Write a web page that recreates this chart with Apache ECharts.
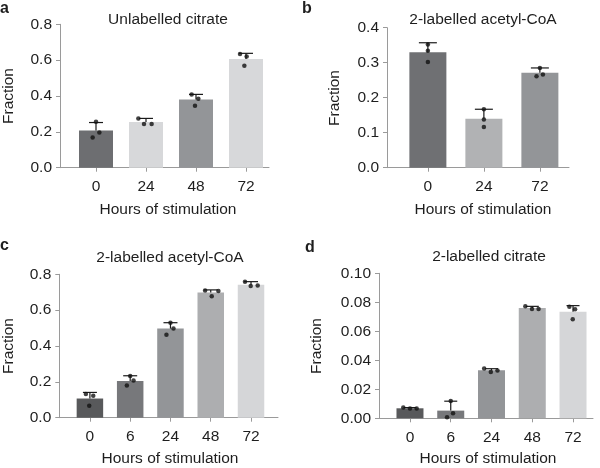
<!DOCTYPE html>
<html>
<head>
<meta charset="utf-8">
<script src="https://cdn.jsdelivr.net/npm/echarts@6/dist/echarts.min.js"></script>
<style>html,body{margin:0;padding:0;background:#fff}#c{width:600px;height:468px}</style>
</head>
<body>
<div id="c"></div>
<script>
// ---- data ----
var catsA = ['0', '24', '48', '72'];
var meansA = [0.207, 0.255, 0.381, 0.607];
var capsA = [0.252, 0.275, 0.409, 0.638];
var repsA = [[0.169, 0.257, 0.197], [0.275, 0.244, 0.244], [0.409, 0.385, 0.346], [0.634, 0.620, 0.569]];
var jitA = [[-0.067, 0, 0.067], [-0.153, -0.04, 0.113], [-0.087, 0.047, -0.02], [-0.12, 0.013, -0.033]];

var catsB = ['0', '24', '72'];
var meansB = [0.330, 0.140, 0.271];
var capsB = [0.357, 0.167, 0.285];
var repsB = [[0.352, 0.334, 0.302], [0.167, 0.138, 0.116], [0.285, 0.261, 0.266]];
var jitB = [[0, 0, 0], [0, 0, 0], [0, -0.06, 0.054]];

var catsC = ['0', '6', '24', '48', '72'];
var meansC = [0.107, 0.205, 0.497, 0.698, 0.742];
var capsC = [0.141, 0.234, 0.530, 0.713, 0.759];
var repsC = [[0.132, 0.123, 0.067], [0.233, 0.207, 0.179], [0.530, 0.497, 0.463], [0.709, 0.707, 0.677], [0.759, 0.735, 0.737]];
var jitC = [[-0.1, 0.083, -0.017], [0, 0.083, -0.083], [0, 0.075, -0.1], [-0.14, 0.19, 0.025], [-0.15, -0.008, 0.166]];

var catsD = ['0', '6', '24', '48', '72'];
var meansD = [0.0069, 0.0053, 0.0331, 0.0760, 0.0735];
var capsD = [0.0074, 0.0118, 0.0342, 0.0772, 0.0777];
var repsD = [[0.0074, 0.0067, 0.0067], [0.0119, 0.0034, 0.0007], [0.0343, 0.0320, 0.0329], [0.0772, 0.0754, 0.0754], [0.0770, 0.0752, 0.0683]];
var jitD = [[-0.164, 0, 0.164], [0, 0.056, -0.09], [-0.18, -0.017, 0.147], [-0.17, -0.007, 0.155], [-0.09, 0.05, -0.007]];

var ticksA = [0, 0.8, 0.2], ticksB = [0, 0.4, 0.1], ticksC = [0, 0.8, 0.2], ticksD = [0, 0.10, 0.02];

// ---- styling ----
var FONT = 'Liberation Sans, Arial, sans-serif';
var TXT = '#1e1e1e';
var AX = '#9a9a9a';
var FS = 15.5;
var colorsA = ['#6d6e71', '#d7d8da', '#939598', '#d7d8da'];
var colorsB = ['#6f7073', '#b1b2b4', '#939598'];
var colorsCD = ['#58595b', '#77787b', '#939598', '#adaeb0', '#d5d6d8'];

var panels = [
  {cats: catsA, means: meansA, caps: capsA, reps: repsA, jit: jitA, ticks: ticksA, dec: 1, colors: colorsA,
   grid: {left: 60, top: 24.3, width: 209, height: 143.4}, xr: [-0.72, 3.46], barW: 34, capW: 14},
  {cats: catsB, means: meansB, caps: capsB, reps: repsB, jit: jitB, ticks: ticksB, dec: 1, colors: colorsB,
   grid: {left: 387, top: 27.7, width: 182, height: 140}, xr: [-0.73, 2.52], barW: 37, capW: 18},
  {cats: catsC, means: meansC, caps: capsC, reps: repsC, jit: jitC, ticks: ticksC, dec: 1, colors: colorsCD,
   grid: {left: 59.3, top: 274.3, width: 218.7, height: 143.4}, xr: [-0.76, 4.67], barW: 26.5, capW: 14},
  {cats: catsD, means: meansD, caps: capsD, reps: repsD, jit: jitD, ticks: ticksD, dec: 2, colors: colorsCD,
   grid: {left: 379, top: 273.3, width: 214, height: 145}, xr: [-0.76, 4.49], barW: 27, capW: 13}
];

var grids = [], xAxes = [], yAxes = [], series = [];
panels.forEach(function (p, k) {
  grids.push(p.grid);
  var idx = p.cats.map(function (c, i) { return i; });
  xAxes.push({
    type: 'value', gridIndex: k, min: p.xr[0], max: p.xr[1],
    axisLine: {show: true, onZero: false, lineStyle: {color: AX, width: 1}},
    axisTick: {show: true, length: 4, lineStyle: {color: AX}, customValues: idx},
    axisLabel: {show: true, margin: 11, color: TXT, fontSize: FS, fontFamily: FONT, customValues: idx,
      formatter: (function (cats) { return function (v) { return cats[Math.round(v)]; }; })(p.cats)},
    splitLine: {show: false}
  });
  yAxes.push({
    type: 'value', gridIndex: k, min: p.ticks[0], max: p.ticks[1], interval: p.ticks[2],
    axisLine: {show: true, onZero: false, lineStyle: {color: AX, width: 1}},
    axisTick: {show: true, length: 4, lineStyle: {color: AX}},
    axisLabel: {margin: 8, color: TXT, fontSize: FS, fontFamily: FONT,
      formatter: (function (d) { return function (v) { return v.toFixed(d); }; })(p.dec)},
    splitLine: {show: false}
  });
  series.push({
    type: 'bar', xAxisIndex: k, yAxisIndex: k, barWidth: p.barW, z: 2,
    data: p.means.map(function (m, i) { return {value: [i, m], itemStyle: {color: p.colors[i]}}; })
  });
  series.push({
    type: 'custom', xAxisIndex: k, yAxisIndex: k, z: 3,
    data: p.means.map(function (m, i) { return [i, m, p.caps[i]]; }),
    renderItem: (function (cw) {
      return function (params, api) {
        var a = api.coord([api.value(0), api.value(1)]);
        var b = api.coord([api.value(0), api.value(2)]);
        var st = {stroke: '#1a1a1a', lineWidth: 1.2};
        return {type: 'group', children: [
          {type: 'line', shape: {x1: a[0], y1: a[1], x2: b[0], y2: b[1]}, style: st},
          {type: 'line', shape: {x1: b[0] - cw / 2, y1: b[1], x2: b[0] + cw / 2, y2: b[1]}, style: st}
        ]};
      };
    })(p.capW)
  });
  var pts = [];
  p.reps.forEach(function (r, i) { r.forEach(function (v, j) { pts.push([i + p.jit[i][j], v]); }); });
  series.push({
    type: 'scatter', xAxisIndex: k, yAxisIndex: k, z: 4, symbolSize: 4.5,
    itemStyle: {color: '#111'}, data: pts, silent: true
  });
});

function txt(x, y, s, opt) {
  opt = opt || {};
  return {type: 'text', x: x, y: y, rotation: opt.rot || 0, z: 10,
    style: {text: s, fill: TXT, font: (opt.weight || 'normal') + ' ' + (opt.size || FS) + 'px ' + FONT,
      textAlign: opt.align || 'center', textVerticalAlign: opt.va || 'middle'}};
}

var graphic = [
  txt(0, 9, 'a', {weight: 'bold', size: 16, align: 'left'}),
  txt(302, 9, 'b', {weight: 'bold', size: 16, align: 'left'}),
  txt(0, 246, 'c', {weight: 'bold', size: 16, align: 'left'}),
  txt(305, 248, 'd', {weight: 'bold', size: 16, align: 'left'}),
  txt(168, 20, 'Unlabelled citrate'),
  txt(483, 20, '2-labelled acetyl-CoA'),
  txt(170, 258, '2-labelled acetyl-CoA'),
  txt(489, 257, '2-labelled citrate'),
  txt(168, 210, 'Hours of stimulation'),
  txt(483, 210, 'Hours of stimulation'),
  txt(170, 459, 'Hours of stimulation'),
  txt(488, 459, 'Hours of stimulation'),
  txt(9, 96, 'Fraction', {rot: Math.PI / 2}),
  txt(335, 98, 'Fraction', {rot: Math.PI / 2}),
  txt(9, 346, 'Fraction', {rot: Math.PI / 2}),
  txt(317, 346, 'Fraction', {rot: Math.PI / 2})
];

var chart = echarts.init(document.getElementById('c'), null, {renderer: 'canvas'});
chart.setOption({
  animation: false,
  backgroundColor: '#fff',
  grid: grids, xAxis: xAxes, yAxis: yAxes, series: series, graphic: graphic
});
</script>
</body>
</html>
